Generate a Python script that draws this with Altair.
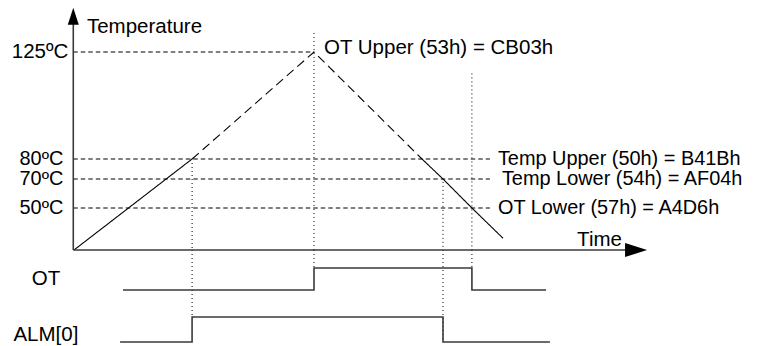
import altair as alt
import pandas as pd

FONT = "Liberation Sans"
FS = 20.5
FS_THR = 19.9   # stacked threshold labels (20 px apart)

# ---- time instants (arbitrary time units) ----
t_axis = -0.3
t_up80 = 49.2      # rising ramp crosses 80ºC
t_peak = 100.0     # ramp reaches 125ºC
t_dn80 = 145.0     # falling ramp crosses 80ºC
t_dn70 = 153.75    # falling ramp crosses 70ºC
t_dn50 = 165.8     # falling ramp crosses 50ºC
t_end = 178.75
temp_end = 14.0

# ---- temperature ramp (three segments) ----
up_t = [0.0, t_up80]
up_temp = [0, 80]
mid_t = [t_up80, t_peak, t_dn80]
mid_temp = [80, 125, 80]
down_t = [t_dn80, t_dn70, t_dn50, t_end]
down_temp = [80, 70, 50, temp_end]

# ---- thresholds ----
thr_temp = [125, 80, 70, 50]
thr_unit = ["125ºC", "80ºC", "70ºC", "50ºC"]
thr_reg = ["OT Upper (53h) = CB03h", "Temp Upper (50h) = B41Bh",
           "Temp Lower (54h) = AF04h", "OT Lower (57h) = A4D6h"]
thr_end = [t_peak, 173.3, 173.3, 173.3]

# ---- digital signals (lanes: ALM[0] = 0..1, OT = 2..3, time axis = 4) ----
ot_t = [20.4, t_peak, t_dn50, 196.7]
ot_v = [0, 1, 0, 0]
alm_t = [19.2, t_up80, t_dn70, 198.3]
alm_v = [0, 1, 0, 0]
lane_names = ["OT", "ALM[0]"]
lane_mid = [2.5, 0.3]
lane_label_t = -11.7

# ---- dotted event markers ----
mark_t = [t_up80, t_peak, t_dn70, t_dn50]
mark_top = [78, 133, 68, 116]
mark_lane_end = [1, 3, 0, 3]

# ---- axes ----
yaxis_top = 137
yarrow_temp = 140
xaxis_end = 230
xarrow_t = 234.2
title_t, title_temp = 5.4, 133
time_t, time_temp = 228.3, 4.8

X_SCALE = alt.Scale(domain=[0, 100], range=[66, 306], zero=False, nice=False)
TEMP_SCALE = alt.Scale(domain=[0, 50, 70, 80, 125], range=[242, 200, 171, 151, 44],
                       zero=False, nice=False)
LANE_SCALE = alt.Scale(domain=[0, 1, 2, 3, 4], range=[334, 309, 282, 260, 242],
                       zero=False, nice=False)


def X(f):
    return alt.X(f, type="quantitative", scale=X_SCALE, axis=None)


def YT(f):
    return alt.Y(f, type="quantitative", scale=TEMP_SCALE, axis=None)


def YL(f):
    return alt.Y(f, type="quantitative", scale=LANE_SCALE, axis=None)


ramp_df = pd.concat([
    pd.DataFrame({"t": up_t, "temp": up_temp, "seg": "up", "style": "solid"}),
    pd.DataFrame({"t": mid_t, "temp": mid_temp, "seg": "mid", "style": "dashed"}),
    pd.DataFrame({"t": down_t, "temp": down_temp, "seg": "down", "style": "solid"}),
], ignore_index=True)

thr_df = pd.DataFrame({"temp": thr_temp, "unit": thr_unit, "reg": thr_reg,
                       "t0": t_axis, "t1": thr_end})

sig_df = pd.concat([
    pd.DataFrame({"t": ot_t, "lane": [v + 2 for v in ot_v], "sig": "OT"}),
    pd.DataFrame({"t": alm_t, "lane": alm_v, "sig": "ALM"}),
], ignore_index=True)

lane_df = pd.DataFrame({"name": lane_names, "lane": lane_mid, "t": lane_label_t})

mark_df = pd.DataFrame({"t": mark_t, "top": mark_top, "bot": 0,
                        "lane_top": 4, "lane_end": mark_lane_end})

axis_df = pd.DataFrame({"t0": [t_axis], "t1": [xaxis_end], "y0": [0], "y1": [yaxis_top],
                        "ya": [yarrow_temp], "ta": [xarrow_t]})

text_df = pd.DataFrame({"t": [title_t, time_t], "temp": [title_temp, time_temp],
                        "label": ["Temperature", "Time"], "align": ["left", "right"]})

AXIS_COLOR = "#3a3a3a"


def txt(**kw):
    base = dict(font=FONT, fontSize=FS, color="black")
    base.update(kw)
    return base


# thresholds
thr_rules = alt.Chart(thr_df).mark_rule(color="black", strokeWidth=1, strokeDash=[4.5, 3]).encode(
    x=X("t0"), x2="t1", y=YT("temp"))
thr_left_top = alt.Chart(thr_df).transform_filter("datum.temp == 125").mark_text(
    **txt(align="right", baseline="middle", dx=-5)).encode(
    x=X("t0"), y=YT("temp"), text="unit:N")
thr_left = alt.Chart(thr_df).transform_filter("datum.temp != 125").mark_text(
    **txt(align="right", baseline="middle", dx=-10, fontSize=FS_THR)).encode(
    x=X("t0"), y=YT("temp"), text="unit:N")
thr_right_top = alt.Chart(thr_df).transform_filter("datum.temp == 125").mark_text(
    **txt(align="left", baseline="middle", dx=10, dy=-4)).encode(
    x=X("t1"), y=YT("temp"), text="reg:N")
thr_right = alt.Chart(thr_df).transform_filter("datum.temp == 80 || datum.temp == 50").mark_text(
    **txt(align="left", baseline="middle", dx=8, fontSize=FS_THR)).encode(
    x=X("t1"), y=YT("temp"), text="reg:N")
thr_right_70 = alt.Chart(thr_df).transform_filter("datum.temp == 70").mark_text(
    **txt(align="left", baseline="middle", dx=12, fontSize=FS_THR)).encode(
    x=X("t1"), y=YT("temp"), text="reg:N")

# ramp
ramp = alt.Chart(ramp_df).mark_line(color="black", strokeWidth=1.1).encode(
    x=X("t"), y=YT("temp"), detail="seg:N", order="t:Q",
    strokeDash=alt.StrokeDash("style:N", scale=alt.Scale(domain=["solid", "dashed"],
                                                         range=[[1, 0], [9, 5]]), legend=None))

# dotted markers
dots_top = alt.Chart(mark_df).mark_rule(color="black", strokeWidth=1, strokeDash=[1, 3]).encode(
    x=X("t"), y=YT("top"), y2="bot")
dots_bot = alt.Chart(mark_df).mark_rule(color="black", strokeWidth=1, strokeDash=[1, 3]).encode(
    x=X("t"), y=YL("lane_top"), y2="lane_end")

# signals
signals = alt.Chart(sig_df).mark_line(interpolate="step-after", color=AXIS_COLOR, strokeWidth=1.6).encode(
    x=X("t"), y=YL("lane"), detail="sig:N")
lane_labels = alt.Chart(lane_df).mark_text(**txt(align="center", baseline="middle")).encode(
    x=X("t"), y=YL("lane"), text="name:N")

# axes
y_axis = alt.Chart(axis_df).mark_rule(color=AXIS_COLOR, strokeWidth=1.6).encode(
    x=X("t0"), y=YT("y0"), y2="y1")
x_axis = alt.Chart(axis_df).mark_rule(color=AXIS_COLOR, strokeWidth=1.6).encode(
    x=X("t0"), x2="t1", y=YT("y0"))
y_arrow = alt.Chart(axis_df).mark_point(shape="M -0.65 1 L 0 -1 L 0.65 1 Z", size=289,
                                        filled=True, color="black", opacity=1).encode(
    x=X("t0"), y=YT("ya"))
x_arrow = alt.Chart(axis_df).mark_point(shape="M -1 -0.64 L 1 0 L -1 0.64 Z", size=484,
                                        filled=True, color="black", opacity=1).encode(
    x=X("ta"), y=YT("y0"))
title_l = alt.Chart(text_df).transform_filter("datum.align == 'left'").mark_text(
    **txt(align="left", baseline="alphabetic")).encode(
    x=X("t"), y=YT("temp"), text="label:N")
title_r = alt.Chart(text_df).transform_filter("datum.align == 'right'").mark_text(
    **txt(align="right", baseline="alphabetic")).encode(
    x=X("t"), y=YT("temp"), text="label:N")

chart = alt.layer(
    thr_rules, dots_top, dots_bot, ramp, signals,
    y_axis, x_axis, y_arrow, x_arrow,
    thr_left_top, thr_left, thr_right_top, thr_right, thr_right_70, lane_labels, title_l, title_r,
).resolve_scale(y="independent").properties(
    width=744, height=338, padding=0,
    autosize=alt.AutoSizeParams(type="none"),
).configure_view(strokeWidth=0)

chart.save("out.html", embed_options={"renderer": "svg", "actions": False})
